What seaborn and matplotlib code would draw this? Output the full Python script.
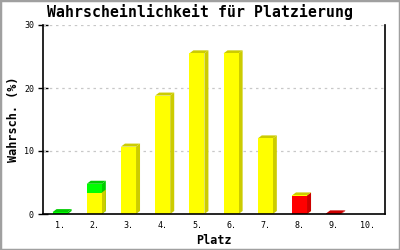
import numpy as np
import pandas as pd
import matplotlib
matplotlib.use("Agg")
import matplotlib.pyplot as plt
import seaborn as sns
from matplotlib.patches import Polygon, Rectangle

# ---- data ----
places = ["1.", "2.", "3.", "4.", "5.", "6.", "7.", "8.", "9.", "10."]
red_vals = [0.0, 0.0, 0.0, 0.0, 0.0, 0.0, 0.0, 2.9, 0.1, 0.0]
yellow_vals = [0.0, 3.4, 10.7, 18.8, 25.5, 25.5, 12.0, 0.05, 0.0, 0.0]
green_vals = [0.3, 1.4, 0.0, 0.0, 0.0, 0.0, 0.0, 0.0, 0.0, 0.0]
y_ticks = [0, 10, 20, 30]

title = "Wahrscheinlichkeit für Platzierung"
xlabel = "Platz"
ylabel = "Wahrsch. (%)"

# stacking order bottom -> top: (values, front colour, side colour)
series = [
    (red_vals, "#ff0000", "#cc0000"),
    (yellow_vals, "#ffff00", "#cccc00"),
    (green_vals, "#00ff00", "#00cc00"),
]

sns.set_theme(style="white")
plt.rcParams["font.family"] = ["DejaVu Sans Mono", "DejaVu Sans"]
plt.rcParams["text.color"] = "black"
plt.rcParams["axes.labelcolor"] = "black"
plt.rcParams["xtick.color"] = "black"
plt.rcParams["ytick.color"] = "black"

fig = plt.figure(figsize=(4.0, 2.5), dpi=100)
ax = fig.add_axes([43 / 400, 36 / 250, 342 / 400, 189 / 250])
ax.set_xlim(-0.5, len(places) - 0.5)
ax.set_ylim(0, 30)

bar_w = 0.44
n = len(places)

# cumulative tops per series
cums = []
running = np.zeros(n)
for vals, front, side in series:
    running = running + np.array(vals)
    cums.append(running.copy())

# pixel-based depth converted through the axis scales
bbox = ax.get_window_extent()
dx = 4 * (n / bbox.width)
dy = 3 * (30 / bbox.height)
hw = bar_w / 2
total = cums[-1]

# draw from the top segment down so lower segments overlay upper ones
for k in range(len(series) - 1, -1, -1):
    vals, front, side = series[k]
    top = cums[k]
    df = pd.DataFrame({"place": places, "val": top})
    for i in range(n):
        if top[i] > 0 and vals[i] > 0 or (top[i] > 0 and k == 0):
            xr = i + hw
            ax.add_patch(Polygon([(xr, 0), (xr + dx, dy), (xr + dx, top[i] + dy), (xr, top[i])],
                                 closed=True, facecolor=side, edgecolor="none", zorder=3))
            if np.isclose(top[i], total[i]) and vals[i] > 0:
                xl = i - hw
                ax.add_patch(Polygon([(xl, top[i]), (xl + dx, top[i] + dy),
                                      (xr + dx, top[i] + dy), (xr, top[i])],
                                     closed=True, facecolor=side, edgecolor="none", zorder=3))
    sns.barplot(data=df, x="place", y="val", color=front, width=bar_w,
                saturation=1, ax=ax, zorder=3, linewidth=0, order=places,
                errorbar=None)

ax.set_xlim(-0.5, n - 0.5)
ax.set_ylim(0, 30)
ax.set_xticks(range(n))
ax.set_xticklabels(places)
ax.set_yticks(y_ticks)
ax.set_yticklabels([str(t) for t in y_ticks])

for yt in y_ticks[1:]:
    ax.axhline(yt, color="#c8c8c8", linestyle=(0, (2, 3)), linewidth=0.9, zorder=1)

ax.spines["top"].set_visible(False)
for s in ["left", "bottom", "right"]:
    ax.spines[s].set_visible(True)
    ax.spines[s].set_color("black")
    ax.spines[s].set_linewidth(1.2)
    ax.spines[s].set_zorder(4)

ax.tick_params(axis="y", direction="inout", length=7, width=1,
               labelsize=6, pad=3, left=True)
ax.tick_params(axis="x", length=0, labelsize=6, pad=5)

ax.set_xlabel(xlabel, fontsize=8.5, fontweight="bold", labelpad=3)
ax.set_ylabel(ylabel, fontsize=8.5, fontweight="bold", labelpad=3)
fig.text(0.5, 0.952, title, ha="center", va="center", fontsize=10.7,
         fontweight="bold")

fig.patches.append(Rectangle((0, 0), 1, 1, transform=fig.transFigure, fill=False,
                             edgecolor="#a0a0a0", linewidth=2.5))

fig.savefig("out.png", dpi=100)
